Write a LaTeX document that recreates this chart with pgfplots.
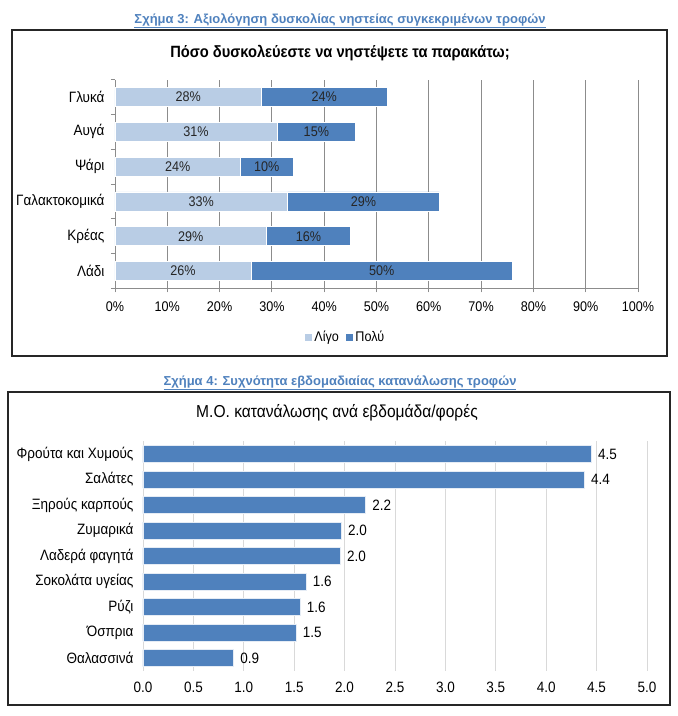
\documentclass[border=0pt]{standalone}
\usepackage{pgfplots}
\pgfplotsset{compat=1.18}
\usepackage{fontspec}
\setmainfont{Liberation Sans}[FakeStretch=0.9]
\newfontfamily\capfont{Liberation Sans}
\definecolor{light}{HTML}{B9CDE5}
\definecolor{dark}{HTML}{4F81BD}
\definecolor{cap}{HTML}{4F81BD}
\definecolor{gridA}{HTML}{8C8C8C}
\definecolor{gridB}{HTML}{D9D9D9}
\begin{document}
\begin{tikzpicture}[x=1pt,y=1pt]
\path[use as bounding box] (0,0) rectangle (678,716);
% boxes
\draw[line width=1.2pt, black!85] (12,716-30) rectangle (667,716-356);
\draw[line width=1.2pt, black!85] (8,716-392) rectangle (670,716-705);
% captions
\node[font=\fontsize{13}{15}\capfont\bfseries, text=cap] at (340,716-21) {\underline{Σχήμα 3: Αξιολόγηση δυσκολίας νηστείας συγκεκριμένων τροφών}};
\node[font=\fontsize{13}{15}\capfont\bfseries, text=cap] at (340,716-383) {\underline{Σχήμα 4: Συχνότητα εβδομαδιαίας κατανάλωσης τροφών}};
\node[font=\fontsize{16.3}{18}\selectfont\bfseries] at (340,716-53) {Πόσο δυσκολεύεστε να νηστέψετε τα παρακάτω;};
\node[font=\fontsize{17.3}{20}\selectfont] at (337,716-413) {Μ.Ο. κατανάλωσης ανά εβδομάδα/φορές};

\begin{axis}[
  at={(115pt,427.6pt)}, anchor=south west,
  scale only axis, width=523pt, height=208.8pt,
  xbar stacked, bar width=19pt,
  xmin=0, xmax=100, ymin=-0.5, ymax=5.5,
  xtick={0,10,...,100},
  xticklabel={\pgfmathprintnumber{\tick}\%},
  ytick={0,...,5},
  yticklabels={Λάδι,Κρέας,Γαλακτοκομικά,Ψάρι,Αυγά,Γλυκά},
  minor ytick={-0.5,0.5,...,5.5},
  axis lines*=left,
  axis line style={gridA, line width=0.8pt},
  xmajorgrids, major grid style={gridA, line width=0.8pt},
  major x tick style={gridA, line width=0.8pt},
  major y tick style={draw=none},
  minor y tick style={gridA, line width=0.8pt},
  tick align=outside, major tick length=4pt, minor tick length=4pt,
  /pgf/number format/assume math mode=true,
  xticklabel style={font=\fontsize{14}{16}\selectfont, yshift=-6pt},
  yticklabel style={font=\fontsize{15}{17}\selectfont, xshift=-3pt},
  nodes near coords={\pgfmathprintnumber{\pgfplotspointmeta}\%},
  every node near coord/.append style={font=\fontsize{14}{16}\selectfont, anchor=center, text=black!85},
  legend style={at={(0.44,-0.233)}, anchor=center, draw=none, legend columns=-1, font=\fontsize{14}{16}\selectfont, /tikz/every even column/.append style={column sep=4pt}},
  legend image code/.code={\fill[#1] (0pt,-4pt) rectangle (8pt,4pt);},
]
\addplot[fill=light, draw=white, line width=0.4pt] coordinates {(28,5) (31,4) (24,3) (33,2) (29,1) (26,0)};
\addplot[fill=dark, draw=white, line width=0.4pt] coordinates {(24,5) (15,4) (10,3) (29,2) (16,1) (50,0)};
\legend{Λίγο,Πολύ}
\end{axis}

\begin{axis}[
  at={(143pt,45.25pt)}, anchor=south west,
  scale only axis, width=504pt, height=229.5pt,
  xbar, bar width=17pt,
  xmin=0, xmax=5, ymin=-0.5, ymax=8.5,
  xtick={0,0.5,...,5},
  /pgf/number format/fixed, /pgf/number format/fixed zerofill, /pgf/number format/precision=1,
  ytick={0,...,8},
  yticklabels={Θαλασσινά,Όσπρια,Ρύζι,Σοκολάτα υγείας,Λαδερά φαγητά,Ζυμαρικά,Ξηρούς καρπούς,Σαλάτες,Φρούτα και Χυμούς},
  axis line style={draw=none},
  major tick length=0pt,
  xmajorgrids, major grid style={gridB, line width=0.8pt},
  /pgf/number format/assume math mode=true,
  ticklabel style={font=\fontsize{15}{17}\selectfont},
  xticklabel style={yshift=-8pt},
  yticklabel style={xshift=-6pt},
  nodes near coords,
  every node near coord/.append style={font=\fontsize{15}{17}\selectfont, anchor=west, xshift=3pt},
]
\addplot[fill=dark, draw=white!85!dark, line width=0.6pt] coordinates {(0.90,0) (1.52,1) (1.56,2) (1.62,3) (1.96,4) (1.97,5) (2.21,6) (4.38,7) (4.45,8)};
\end{axis}
\end{tikzpicture}
\end{document}
